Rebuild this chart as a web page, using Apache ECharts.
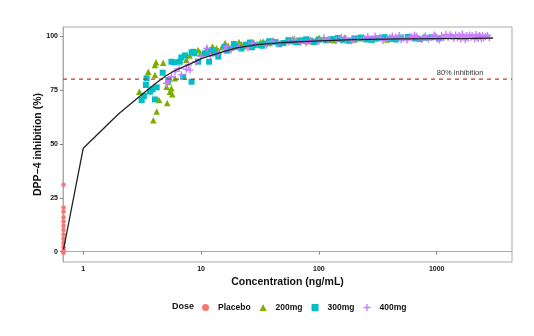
<!DOCTYPE html>
<html>
<head>
<meta charset="utf-8">
<script src="https://cdn.jsdelivr.net/npm/echarts@6/dist/echarts.min.js"></script>
<style>html,body{margin:0;padding:0;background:#fff;}#c{width:534px;height:336px;}</style>
</head>
<body>
<div id="c"></div>
<script>
var xTicks = [1, 10, 100, 1000];
var yTicks = [0, 25, 50, 75, 100];
var xRange = [0.673, 4357];
var yRange = [-4.8, 104.2];
var doseNames = ['Placebo', '200mg', '300mg', '400mg'];
var doseColors = ['#F8766D', '#7CAE00', '#00BFC4', '#C77CFF'];

var curveConc = [0.68, 1, 2, 3, 4, 5, 6, 8, 10, 15, 20, 30, 50, 100, 200, 500, 1000, 2000, 3000];
var curveInh  = [1, 48, 64, 72, 77.5, 81.5, 84, 87, 89.5, 92.5, 94.5, 96, 97, 97.8, 98.3, 98.7, 98.8, 98.9, 99];

var placebo = [[0.68,31],[0.68,20.5],[0.68,18.5],[0.68,16],[0.68,14],[0.68,12],[0.68,10],[0.68,8],[0.68,6],[0.68,4],[0.68,2],[0.68,0.5],[0.68,0],[0.68,-0.5]];

var dose200 = [[2.99,74.2],[3.27,72.2],[3.56,83.5],[3.93,61],[4.06,81.9],[4.06,86.6],[4.15,87.8],[4.2,65],[4.4,70.3],[4.77,87.6],[5.1,76.5],[5.16,69],[5.27,78.8],[5.44,74.2],[5.6,75.8],[6.0,80.4],[5.7,73],
  [7.5,89],[8,91],[9.45,93.5],[9.9,92],[11.2,94.4],[11.9,93.5],[13.5,94.3],[15,94.8],[16,96.8],[17,95.5],[19,96],[22,96.2],[25,95.8],[26,96.8],[28,97],[32,97.3],[33.6,97.5],[36.6,97.8],[38,96.8],[45,97.5],[55,97.8],[65,98.2],[80,97.6],[81,98.8],[95,98.5],[100,99.2],[120,98.3],[150,98.8],[180,98.1],[220,99],[260,98.6],[350,99.2],[380,98.4],
  [12.5,95.2],[14,93.2],[18,94.6],[21,97.2],[23,95.3],[30,96.2],[41,98.1],[50,96.9],[60,98.6],[72,97.9],[90,97.4],[110,98.9],[135,98.0],[165,99.3],[200,98.4],[240,99.4],[300,98.9],[420,99.1]];

var dose300 = [[3.13,70.3],[3.27,72.3],[3.4,77.3],[3.45,80.4],[3.68,74.2],[3.87,75.3],[4.06,70.6],[4.2,76.2],[4.72,83],[5.27,79.6],[5.6,88.1],[5.9,87.8],[6.6,88.1],[6.8,90.1],[7.05,81.1],[8.3,78.8],[8.3,92.4],[8.8,92],[9.45,88.1],[8.6,92.7],[7.3,91],
  [10.8,92],[11.9,92],[13.1,92],[15.9,95],[11.7,88.1],[14,90.5],[17,94],[20,95],[24,96],[27,94.8],[30,95.8],[35,96.5],[42,97.2],[50,96.8],[60,97.5],[70,98],[85,97.8],[100,98.3],[130,98.6],[160,98.2],[200,98.9],[250,98.5],[320,99],[400,98.7],[500,99.3],[650,98.9],[800,99.2],
  [12.5,93.5],[16.5,93.2],[19,96.3],[22,94.2],[26,97],[33,95.5],[38,97.6],[46,96.2],[55,98.1],[65,97.1],[78,98.5],[92,97.3],[115,98],[145,99.1],[180,97.9],[225,99.3],[280,98.1],[360,99.5],[450,98.4],[570,99.6],[720,98.6],[900,99.4],[1050,98.9]];

var dose400 = [[5.1,78.1],[5.3,79.6],[5.6,81.1],[6.0,83.5],[6.5,85],[7.5,84.6],[7.8,86.6],[8.05,84.2],[9,88],[11.2,94.3],[12,91],[14,92],[15.9,93.8],[18,93.5],[21,95],[25,94.5],[30,96],[36,95.8],[45,96.5],[55,97.3],[70,97],[85,98],[100,97.6],[120,98.4],[140,97.9],[170,98.8],[200,98.3],[240,99.1],[280,98.6],[300,99.9],[330,99.4],[380,98.8],[420,100],[450,99.6],[500,98.3],[520,99],[600,99.8],[650,100.4],[700,98.9],[750,98.4],[800,100],[900,99.3],[950,100.5],[1000,98.7],[1100,100.2],[1250,99.5],[1300,100.6],[1400,98.9],[1550,100.3],[1600,98.5],[1700,99.6],[1850,99],[1900,100.5],[2000,100.1],[2200,99.4],[2300,100.2],[2400,98.8],[2600,99.8],[2800,99.2],
  [6.8,82],[10,90.5],[16.5,95.2],[27,96.8],[40,97.6],[62,98.4],[78,96.9],[110,99.2],[155,99.5],[190,97.7],[260,99.8],[350,97.9],[400,99.2],[480,100.3],[560,98.2],[620,99.1],[680,99.9],[780,99.6],[850,98.6],[980,99.9],[1050,98.2],[1150,99.3],[1200,100.8],[1350,99.9],[1450,100.5],[1500,99.2],[1650,100.9],[1750,98.3],[1800,100.2],[1950,99.5],[2100,98.6],[2150,100.7],[2250,98.9],[2350,99.7],[2450,100.4],[2500,99.1],[2700,100.3]];

var refLevel = 80;
var refLabel = '80% inhibition';
var refLabelPos = [1580, 83];

var FONT = 'Liberation Sans, Arial, sans-serif';
var plusPath = 'path://M4,0H6V4H10V6H6V10H4V6H0V4H4Z';
var symbols = ['circle', 'triangle', 'rect', plusPath];
var sizes = [4.5, 6.5, 6, 7];
var datasets = [placebo, dose200, dose300, dose400];

var series = doseNames.map(function (n, i) {
  return {
    name: n, type: 'scatter', data: datasets[i], symbol: symbols[i], symbolSize: sizes[i],
    itemStyle: { color: doseColors[i], opacity: 1 }, clip: false, z: 2 + i
  };
});
series.push({
  name: 'ref', type: 'line', data: [[xRange[0], refLevel], [xRange[1], refLevel]],
  symbol: 'none', silent: true, z: 9,
  lineStyle: { color: '#C0392B', type: [4, 4], width: 1.1 },
  markPoint: { silent: true, symbol: 'circle', symbolSize: 0,
    data: [{ coord: refLabelPos, label: { show: true, formatter: refLabel, color: '#333', fontSize: 7.5, fontFamily: FONT, position: 'inside' } }] }
});
series.push({
  name: 'fit', type: 'line', data: curveConc.map(function (c, i) { return [c, curveInh[i]]; }),
  symbol: 'none', lineStyle: { color: '#222', width: 1.3 }, z: 10, silent: true
});

var chart = echarts.init(document.getElementById('c'));
chart.setOption({
  animation: false,
  backgroundColor: '#fff',
  grid: { left: 63, right: 22, top: 27, bottom: 74, show: true, borderColor: '#aaaaaa', borderWidth: 1 },
  xAxis: {
    type: 'log', logBase: 10, min: xRange[0], max: xRange[1],
    name: 'Concentration (ng/mL)', nameLocation: 'middle', nameGap: 15, nameMoveOverlap: false,
    nameTextStyle: { fontSize: 10.5, fontWeight: 'bold', color: '#111', fontFamily: FONT },
    axisLine: { show: true, lineStyle: { color: '#aaaaaa' } },
    axisTick: { show: true, length: 3, lineStyle: { color: '#888' }, customValues: xTicks },
    axisLabel: { fontSize: 7, fontWeight: 'bold', color: '#111', fontFamily: FONT, margin: 4, customValues: xTicks,
      formatter: function (v) { return String(Math.round(v)); } },
    splitLine: { show: false }, minorTick: { show: false }
  },
  yAxis: {
    type: 'value', min: yRange[0], max: yRange[1],
    name: 'DPP\u22124 inhibition (%)', nameLocation: 'middle', nameGap: 19, nameMoveOverlap: false,
    nameTextStyle: { fontSize: 10.5, fontWeight: 'bold', color: '#111', fontFamily: FONT },
    axisLine: { show: true, lineStyle: { color: '#aaaaaa' } },
    axisTick: { show: true, length: 3, lineStyle: { color: '#888' }, customValues: yTicks },
    axisLabel: { fontSize: 7, fontWeight: 'bold', color: '#111', fontFamily: FONT, margin: 5, customValues: yTicks },
    splitLine: { show: false }
  },
  legend: {
    data: doseNames.map(function (n, i) { return { name: n, icon: symbols[i] }; }),
    left: 202, top: 303, padding: 0, itemWidth: 7, itemHeight: 7, itemGap: 9,
    textStyle: { fontSize: 8.5, fontWeight: 'bold', color: '#111', fontFamily: FONT, padding: [0, 0, 0, 4] },
    selectedMode: false
  },
  graphic: [{ type: 'text', left: 172, top: 302, style: { text: 'Dose', fontSize: 9, fontWeight: 'bold', fill: '#111', font: 'bold 9px ' + FONT } }],
  series: series
});
</script>
</body>
</html>
